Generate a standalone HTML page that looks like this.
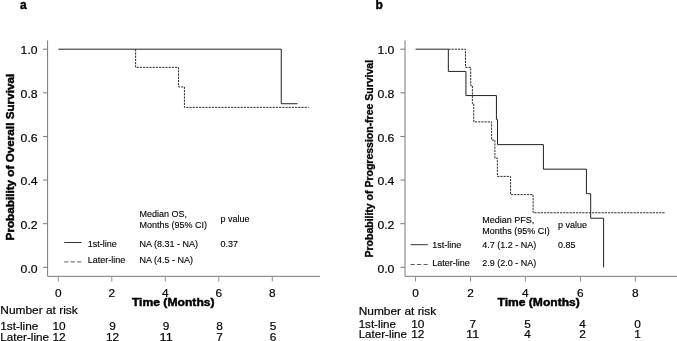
<!DOCTYPE html>
<html><head><meta charset="utf-8"><title>Survival</title>
<style>
html,body{margin:0;padding:0;background:#fff;}
body{width:677px;height:341px;overflow:hidden;font-family:"Liberation Sans",sans-serif;}
svg{display:block;will-change:transform;}
text{font-family:"Liberation Sans",sans-serif;fill:#1a1a1a;}
.v{font-size:11px;fill:#000;stroke:#000;stroke-width:0.18px;}
.vb{font-size:11px;font-weight:bold;fill:#000;stroke:#000;stroke-width:0.45px;}
.ab{font-size:10.4px;font-weight:bold;fill:#000;stroke:#000;stroke-width:0.3px;}
.a{font-size:9px;fill:#000;stroke:#000;stroke-width:0.12px;}
.pl{font-size:12px;font-weight:bold;fill:#000;stroke:#000;stroke-width:0.4px;}
</style></head><body>
<svg width="677" height="341" viewBox="0 0 677 341">
<rect width="677" height="341" fill="#fff"/>
<path d="M47.6 40.4 V276.3 H320" fill="none" stroke="#787878" stroke-width="1"/>
<path d="M43 267.3 H47.6" stroke="#787878" stroke-width="1"/>
<text class="v" x="20.6" y="272.5" textLength="17" lengthAdjust="spacingAndGlyphs">0.0</text>
<path d="M43 223.68 H47.6" stroke="#787878" stroke-width="1"/>
<text class="v" x="20.6" y="228.88" textLength="17" lengthAdjust="spacingAndGlyphs">0.2</text>
<path d="M43 180.06 H47.6" stroke="#787878" stroke-width="1"/>
<text class="v" x="20.6" y="185.26" textLength="17" lengthAdjust="spacingAndGlyphs">0.4</text>
<path d="M43 136.44 H47.6" stroke="#787878" stroke-width="1"/>
<text class="v" x="20.6" y="141.64" textLength="17" lengthAdjust="spacingAndGlyphs">0.6</text>
<path d="M43 92.82 H47.6" stroke="#787878" stroke-width="1"/>
<text class="v" x="20.6" y="98.02" textLength="17" lengthAdjust="spacingAndGlyphs">0.8</text>
<path d="M43 49.2 H47.6" stroke="#787878" stroke-width="1"/>
<text class="v" x="20.6" y="54.4" textLength="17" lengthAdjust="spacingAndGlyphs">1.0</text>
<path d="M58.3 276.3 V281.5" stroke="#909090" stroke-width="1"/>
<text class="v" x="55" y="296.7" textLength="6.6" lengthAdjust="spacingAndGlyphs">0</text>
<path d="M111.8 276.3 V281.5" stroke="#909090" stroke-width="1"/>
<text class="v" x="108.5" y="296.7" textLength="6.6" lengthAdjust="spacingAndGlyphs">2</text>
<path d="M165.3 276.3 V281.5" stroke="#909090" stroke-width="1"/>
<text class="v" x="162" y="296.7" textLength="6.6" lengthAdjust="spacingAndGlyphs">4</text>
<path d="M218.8 276.3 V281.5" stroke="#909090" stroke-width="1"/>
<text class="v" x="215.5" y="296.7" textLength="6.6" lengthAdjust="spacingAndGlyphs">6</text>
<path d="M272.3 276.3 V281.5" stroke="#909090" stroke-width="1"/>
<text class="v" x="269" y="296.7" textLength="6.6" lengthAdjust="spacingAndGlyphs">8</text>
<path d="M135.61 49.2 H135.61 V67.37 H178.54 V86.93 H184.43 V107.37 H308.68" fill="none" stroke="#2a2a2a" stroke-width="1" stroke-dasharray="2.2 1"/>
<path d="M58.3 49.2 H281.26 V103.72 H297.44" fill="none" stroke="#222" stroke-width="1"/>
<path d="M405 40.4 V276.3 H677" fill="none" stroke="#787878" stroke-width="1"/>
<path d="M400.4 267.3 H405" stroke="#787878" stroke-width="1"/>
<text class="v" x="377.4" y="272.5" textLength="17" lengthAdjust="spacingAndGlyphs">0.0</text>
<path d="M400.4 223.68 H405" stroke="#787878" stroke-width="1"/>
<text class="v" x="377.4" y="228.88" textLength="17" lengthAdjust="spacingAndGlyphs">0.2</text>
<path d="M400.4 180.06 H405" stroke="#787878" stroke-width="1"/>
<text class="v" x="377.4" y="185.26" textLength="17" lengthAdjust="spacingAndGlyphs">0.4</text>
<path d="M400.4 136.44 H405" stroke="#787878" stroke-width="1"/>
<text class="v" x="377.4" y="141.64" textLength="17" lengthAdjust="spacingAndGlyphs">0.6</text>
<path d="M400.4 92.82 H405" stroke="#787878" stroke-width="1"/>
<text class="v" x="377.4" y="98.02" textLength="17" lengthAdjust="spacingAndGlyphs">0.8</text>
<path d="M400.4 49.2 H405" stroke="#787878" stroke-width="1"/>
<text class="v" x="377.4" y="54.4" textLength="17" lengthAdjust="spacingAndGlyphs">1.0</text>
<path d="M415.5 276.3 V281.5" stroke="#909090" stroke-width="1"/>
<text class="v" x="412.2" y="296.7" textLength="6.6" lengthAdjust="spacingAndGlyphs">0</text>
<path d="M470.46 276.3 V281.5" stroke="#909090" stroke-width="1"/>
<text class="v" x="467.16" y="296.7" textLength="6.6" lengthAdjust="spacingAndGlyphs">2</text>
<path d="M525.42 276.3 V281.5" stroke="#909090" stroke-width="1"/>
<text class="v" x="522.12" y="296.7" textLength="6.6" lengthAdjust="spacingAndGlyphs">4</text>
<path d="M580.38 276.3 V281.5" stroke="#909090" stroke-width="1"/>
<text class="v" x="577.08" y="296.7" textLength="6.6" lengthAdjust="spacingAndGlyphs">6</text>
<path d="M635.34 276.3 V281.5" stroke="#909090" stroke-width="1"/>
<text class="v" x="632.04" y="296.7" textLength="6.6" lengthAdjust="spacingAndGlyphs">8</text>
<path d="M448.34 49.2 H465.51 V67.37 H470.73 V85.56 H472.38 V103.72 H473.76 V121.89 H491.62 V140.08 H494.92 V158.25 H497.39 V176.42 H510.58 V194.61 H533.11 V212.78 H664.74" fill="none" stroke="#2a2a2a" stroke-width="1" stroke-dasharray="2.2 1"/>
<path d="M415.5 49.2 H448.34 V71.45 H465.93 V95.55 H496.43 V119.65 H497.53 V144.62 H543.42 V169.16 H586.43 V193.69 H590.68 V218.23 H603.6 V267.3 H603.74" fill="none" stroke="#222" stroke-width="1"/>
<text class="pl" x="20" y="9.2">a</text>
<text class="pl" x="375.6" y="9.1">b</text>
<text class="vb" transform="translate(14.1 240.4) rotate(-90)" textLength="166.6" lengthAdjust="spacingAndGlyphs">Probability of Overall Survival</text>
<text class="ab" transform="translate(373.4 257.5) rotate(-90)" textLength="197.6" lengthAdjust="spacingAndGlyphs">Probability of Progression-free Survival</text>
<text class="vb" x="131.9" y="306.4" textLength="82.7" lengthAdjust="spacingAndGlyphs">Time (Months)</text>
<text class="vb" x="497.5" y="306.4" textLength="82.3" lengthAdjust="spacingAndGlyphs">Time (Months)</text>
<path d="M64.2 242.5 H81.5" stroke="#333" stroke-width="1"/>
<path d="M64.2 261.9 H81.5" stroke="#5a5a5a" stroke-width="1" stroke-dasharray="4.2 2.3"/>
<text class="a" x="87.8" y="246.6">1st-line</text>
<text class="a" x="87.8" y="262.7">Later-line</text>
<text class="a" x="139.4" y="216.8">Median OS,</text>
<text class="a" x="139.4" y="227.8">Months (95% CI)</text>
<text class="a" x="139.4" y="246.6">NA (8.31 - NA)</text>
<text class="a" x="139.4" y="262.7">NA (4.5 - NA)</text>
<text class="a" x="220.6" y="221.9">p value</text>
<text class="a" x="220.6" y="246.6">0.37</text>
<path d="M410.5 244.7 H427.8" stroke="#333" stroke-width="1"/>
<path d="M410.5 264.5 H427.8" stroke="#5a5a5a" stroke-width="1" stroke-dasharray="4.2 2.3"/>
<text class="a" x="432.3" y="247.9">1st-line</text>
<text class="a" x="432.3" y="265.6">Later-line</text>
<text class="a" x="482.2" y="222.7">Median PFS,</text>
<text class="a" x="482.2" y="234.4">Months (95% CI)</text>
<text class="a" x="482.2" y="247.9">4.7 (1.2 - NA)</text>
<text class="a" x="482.2" y="265.6">2.9 (2.0 - NA)</text>
<text class="a" x="558" y="227.9">p value</text>
<text class="a" x="558" y="247.9">0.85</text>
<text class="v" x="0.3" y="314.1" textLength="77.5" lengthAdjust="spacingAndGlyphs">Number at risk</text>
<text class="v" x="0.3" y="330.3" textLength="38" lengthAdjust="spacingAndGlyphs">1st-line</text>
<text class="v" x="0.3" y="340.6" textLength="48.8" lengthAdjust="spacingAndGlyphs">Later-line</text>
<text class="v" x="52.5" y="330.3" textLength="13.2" lengthAdjust="spacingAndGlyphs">10</text>
<text class="v" x="52.5" y="340.6" textLength="13.2" lengthAdjust="spacingAndGlyphs">12</text>
<text class="v" x="109.3" y="330.3" textLength="6.6" lengthAdjust="spacingAndGlyphs">9</text>
<text class="v" x="106" y="340.6" textLength="13.2" lengthAdjust="spacingAndGlyphs">12</text>
<text class="v" x="162.8" y="330.3" textLength="6.6" lengthAdjust="spacingAndGlyphs">9</text>
<text class="v" x="159.5" y="340.6" textLength="13.2" lengthAdjust="spacingAndGlyphs">11</text>
<text class="v" x="216.3" y="330.3" textLength="6.6" lengthAdjust="spacingAndGlyphs">8</text>
<text class="v" x="216.3" y="340.6" textLength="6.6" lengthAdjust="spacingAndGlyphs">7</text>
<text class="v" x="269.8" y="330.3" textLength="6.6" lengthAdjust="spacingAndGlyphs">5</text>
<text class="v" x="269.8" y="340.6" textLength="6.6" lengthAdjust="spacingAndGlyphs">6</text>
<text class="v" x="358.7" y="314.5" textLength="77.5" lengthAdjust="spacingAndGlyphs">Number at risk</text>
<text class="v" x="358.7" y="328" textLength="37.3" lengthAdjust="spacingAndGlyphs">1st-line</text>
<text class="v" x="358.7" y="337.9" textLength="48.2" lengthAdjust="spacingAndGlyphs">Later-line</text>
<text class="v" x="411.2" y="328" textLength="13.2" lengthAdjust="spacingAndGlyphs">10</text>
<text class="v" x="411.2" y="337.9" textLength="13.2" lengthAdjust="spacingAndGlyphs">12</text>
<text class="v" x="469.44" y="328" textLength="6.6" lengthAdjust="spacingAndGlyphs">7</text>
<text class="v" x="466.14" y="337.9" textLength="13.2" lengthAdjust="spacingAndGlyphs">11</text>
<text class="v" x="524.38" y="328" textLength="6.6" lengthAdjust="spacingAndGlyphs">5</text>
<text class="v" x="524.38" y="337.9" textLength="6.6" lengthAdjust="spacingAndGlyphs">4</text>
<text class="v" x="579.32" y="328" textLength="6.6" lengthAdjust="spacingAndGlyphs">4</text>
<text class="v" x="579.32" y="337.9" textLength="6.6" lengthAdjust="spacingAndGlyphs">2</text>
<text class="v" x="634.26" y="328" textLength="6.6" lengthAdjust="spacingAndGlyphs">0</text>
<text class="v" x="634.26" y="337.9" textLength="6.6" lengthAdjust="spacingAndGlyphs">1</text>
</svg></body></html>
